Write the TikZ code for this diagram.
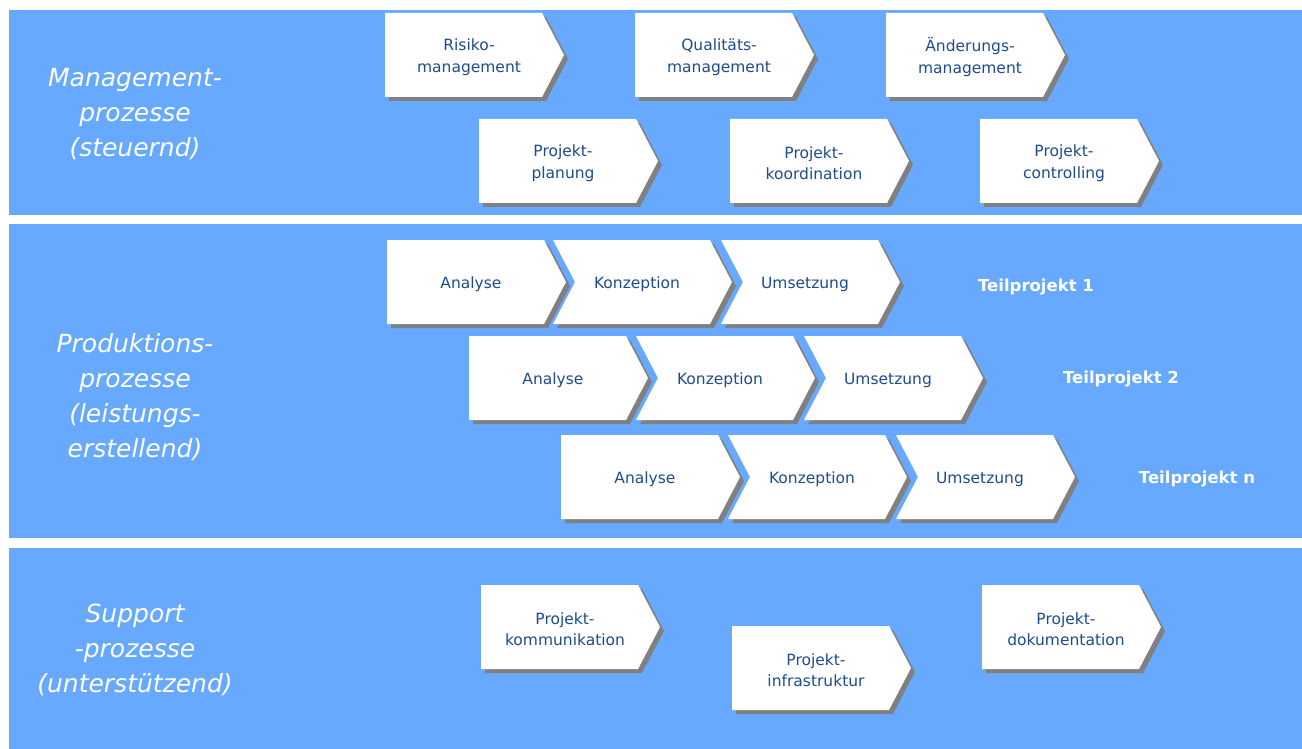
\documentclass[tikz,border=0pt]{standalone}
\usepackage{fontspec}
\setmainfont{DejaVu Sans}
\usepackage{tikz}

\definecolor{bandblau}{RGB}{102,169,255}
\definecolor{textblau}{RGB}{30,76,140}
\definecolor{schattengrau}{RGB}{128,128,128}

\tikzset{
  band/.style={fill=bandblau},
  schatten/.style={fill=schattengrau},
  prozesstext/.style={text=textblau, align=center, font=\fontsize{15.5}{21.5}\selectfont},
  ebene/.style={text=white, align=center, font=\itshape\fontsize{25}{35}\selectfont},
  teilprojekt/.style={text=white, font=\bfseries\fontsize{16.5}{19}\selectfont}
}

% #1 name, #2 left x, #3 top y, #4 notch depth (0 = flat), #5 text
\newcommand{\prozess}[5]{%
  \begin{scope}[shift={(#2,#3)}]
    \fill[schatten] (4,4) -- (161,4) -- (183,46) -- (161,88) -- (4,88) -- (4+#4,46) -- cycle;
    \fill[white] (0,0) -- (157,0) -- (179,42) -- (157,84) -- (0,84) -- (#4,42) -- cycle;
    \node[prozesstext] (#1) at (84,44) {#5};
  \end{scope}}

\begin{document}
\begin{tikzpicture}[x=1pt,y=-1pt]
\useasboundingbox (0,0) rectangle (1302,749);

% three bands
\fill[band] (9,10) rectangle (1302,215);
\fill[band] (9,224) rectangle (1302,538);
\fill[band] (9,548) rectangle (1302,749);

\node[ebene] (management) at (135,114) {Management-\\prozesse\\(steuernd)};
\node[ebene] (produktion) at (135,397) {Produktions-\\prozesse\\(leistungs-\\erstellend)};
\node[ebene] (support) at (135,650) {Support\\-prozesse\\(unterstützend)};

% management processes
\prozess{risiko}{385}{13}{0}{Risiko-\\management}
\prozess{qualitaet}{635}{13}{0}{Qualitäts-\\management}
\prozess{aenderung}{886}{13}{0}{Änderungs-\\management}
\prozess{planung}{479}{119}{0}{Projekt-\\planung}
\prozess{koordination}{730}{119}{0}{Projekt-\\koordination}
\prozess{controlling}{980}{119}{0}{Projekt-\\controlling}

% production processes, one row per subproject
\prozess{analyseA}{387}{240}{0}{Analyse}
\prozess{konzeptionA}{553}{240}{22}{Konzeption}
\prozess{umsetzungA}{721}{240}{22}{Umsetzung}
\node[teilprojekt] (tpA) at (1036,287) {Teilprojekt 1};

\prozess{analyseB}{469}{336}{0}{Analyse}
\prozess{konzeptionB}{636}{336}{22}{Konzeption}
\prozess{umsetzungB}{804}{336}{22}{Umsetzung}
\node[teilprojekt] (tpB) at (1121,379) {Teilprojekt 2};

\prozess{analyseC}{561}{435}{0}{Analyse}
\prozess{konzeptionC}{728}{435}{22}{Konzeption}
\prozess{umsetzungC}{896}{435}{22}{Umsetzung}
\node[teilprojekt] (tpC) at (1197,479) {Teilprojekt n};

% support processes
\prozess{kommunikation}{481}{585}{0}{Projekt-\\kommunikation}
\prozess{infrastruktur}{732}{626}{0}{Projekt-\\infrastruktur}
\prozess{dokumentation}{982}{585}{0}{Projekt-\\dokumentation}
\end{tikzpicture}
\end{document}
